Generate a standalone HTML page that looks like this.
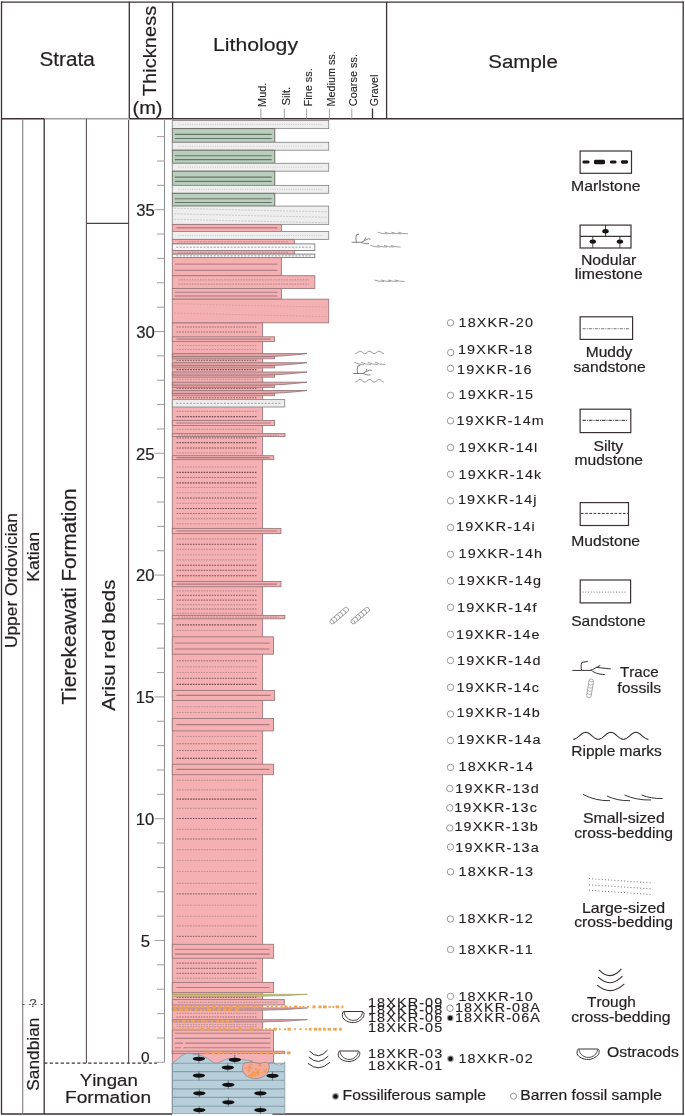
<!DOCTYPE html>
<html><head><meta charset="utf-8"><style>
html,body{margin:0;padding:0;background:#fff;}
svg{display:block;will-change:transform;}
text{font-family:"Liberation Sans",sans-serif;font-kerning:none;stroke:#231f20;stroke-width:0.2px;paint-order:stroke;}
</style></head><body>
<svg width="685" height="1116" viewBox="0 0 685 1116">
<rect x="0" y="0" width="685" height="1116" fill="#fff"/>
<line x1="1.5" y1="2.1" x2="683.2" y2="2.1" stroke="#3a3232" stroke-width="1.4" />
<line x1="1.5" y1="1.2" x2="1.5" y2="1114.3" stroke="#3a3232" stroke-width="1.3" />
<line x1="683.2" y1="1.2" x2="683.2" y2="1114.3" stroke="#3a3232" stroke-width="1.3" />
<line x1="1" y1="1114" x2="172.3" y2="1114" stroke="#3a3232" stroke-width="1.3" />
<line x1="272.4" y1="1114" x2="684" y2="1114" stroke="#3a3232" stroke-width="1.3" />
<line x1="129.3" y1="1.8" x2="129.3" y2="118.8" stroke="#3a3232" stroke-width="1.3" />
<line x1="172.6" y1="1.8" x2="172.6" y2="118.8" stroke="#3a3232" stroke-width="1.3" />
<line x1="386.6" y1="1.8" x2="386.6" y2="118.8" stroke="#3a3232" stroke-width="1.3" />
<line x1="1" y1="118.8" x2="44.5" y2="118.8" stroke="#3a3232" stroke-width="1.4" />
<line x1="44.5" y1="118.8" x2="129.3" y2="118.8" stroke="#9d9d9d" stroke-width="1.4" />
<line x1="129.3" y1="118.8" x2="683.5" y2="118.8" stroke="#3a3232" stroke-width="1.4" />
<line x1="22.7" y1="118.8" x2="22.7" y2="1114" stroke="#8a8585" stroke-width="1.2" />
<line x1="44.2" y1="118.8" x2="44.2" y2="1114" stroke="#3a3232" stroke-width="1.3" />
<line x1="86.4" y1="118.8" x2="86.4" y2="1063.2" stroke="#5a5252" stroke-width="1.1" />
<line x1="128.6" y1="120" x2="128.6" y2="1063.2" stroke="#5a5252" stroke-width="1.1" />
<line x1="86.4" y1="223.4" x2="128.6" y2="223.4" stroke="#4a4242" stroke-width="1.1" />
<line x1="22.7" y1="1004.5" x2="44.2" y2="1004.5" stroke="#555" stroke-width="1" stroke-dasharray="2 4"/>
<text x="29.49" y="1007.3" font-size="11.5" textLength="6.98" lengthAdjust="spacingAndGlyphs" fill="#444" >?</text>
<line x1="44.2" y1="1063.2" x2="157" y2="1063.2" stroke="#3a3232" stroke-width="1.2" stroke-dasharray="3.2 2.3"/>
<line x1="164.5" y1="120" x2="164.5" y2="1062.3" stroke="#8f8f8f" stroke-width="1.1" />
<line x1="154.5" y1="1062.3" x2="164.5" y2="1062.3" stroke="#a5a5a5" stroke-width="1.1" />
<line x1="157" y1="1037.94" x2="164.5" y2="1037.94" stroke="#a5a5a5" stroke-width="1.1" />
<line x1="157" y1="1013.58" x2="164.5" y2="1013.58" stroke="#a5a5a5" stroke-width="1.1" />
<line x1="157" y1="989.22" x2="164.5" y2="989.22" stroke="#a5a5a5" stroke-width="1.1" />
<line x1="157" y1="964.86" x2="164.5" y2="964.86" stroke="#a5a5a5" stroke-width="1.1" />
<line x1="154.5" y1="940.5" x2="164.5" y2="940.5" stroke="#a5a5a5" stroke-width="1.1" />
<line x1="157" y1="916.14" x2="164.5" y2="916.14" stroke="#a5a5a5" stroke-width="1.1" />
<line x1="157" y1="891.78" x2="164.5" y2="891.78" stroke="#a5a5a5" stroke-width="1.1" />
<line x1="157" y1="867.42" x2="164.5" y2="867.42" stroke="#a5a5a5" stroke-width="1.1" />
<line x1="157" y1="843.06" x2="164.5" y2="843.06" stroke="#a5a5a5" stroke-width="1.1" />
<line x1="154.5" y1="818.7" x2="164.5" y2="818.7" stroke="#a5a5a5" stroke-width="1.1" />
<line x1="157" y1="794.34" x2="164.5" y2="794.34" stroke="#a5a5a5" stroke-width="1.1" />
<line x1="157" y1="769.98" x2="164.5" y2="769.98" stroke="#a5a5a5" stroke-width="1.1" />
<line x1="157" y1="745.62" x2="164.5" y2="745.62" stroke="#a5a5a5" stroke-width="1.1" />
<line x1="157" y1="721.26" x2="164.5" y2="721.26" stroke="#a5a5a5" stroke-width="1.1" />
<line x1="154.5" y1="696.9" x2="164.5" y2="696.9" stroke="#a5a5a5" stroke-width="1.1" />
<line x1="157" y1="672.54" x2="164.5" y2="672.54" stroke="#a5a5a5" stroke-width="1.1" />
<line x1="157" y1="648.18" x2="164.5" y2="648.18" stroke="#a5a5a5" stroke-width="1.1" />
<line x1="157" y1="623.82" x2="164.5" y2="623.82" stroke="#a5a5a5" stroke-width="1.1" />
<line x1="157" y1="599.46" x2="164.5" y2="599.46" stroke="#a5a5a5" stroke-width="1.1" />
<line x1="154.5" y1="575.1" x2="164.5" y2="575.1" stroke="#a5a5a5" stroke-width="1.1" />
<line x1="157" y1="550.74" x2="164.5" y2="550.74" stroke="#a5a5a5" stroke-width="1.1" />
<line x1="157" y1="526.38" x2="164.5" y2="526.38" stroke="#a5a5a5" stroke-width="1.1" />
<line x1="157" y1="502.02" x2="164.5" y2="502.02" stroke="#a5a5a5" stroke-width="1.1" />
<line x1="157" y1="477.66" x2="164.5" y2="477.66" stroke="#a5a5a5" stroke-width="1.1" />
<line x1="154.5" y1="453.3" x2="164.5" y2="453.3" stroke="#a5a5a5" stroke-width="1.1" />
<line x1="157" y1="428.94" x2="164.5" y2="428.94" stroke="#a5a5a5" stroke-width="1.1" />
<line x1="157" y1="404.58" x2="164.5" y2="404.58" stroke="#a5a5a5" stroke-width="1.1" />
<line x1="157" y1="380.22" x2="164.5" y2="380.22" stroke="#a5a5a5" stroke-width="1.1" />
<line x1="157" y1="355.86" x2="164.5" y2="355.86" stroke="#a5a5a5" stroke-width="1.1" />
<line x1="154.5" y1="331.5" x2="164.5" y2="331.5" stroke="#a5a5a5" stroke-width="1.1" />
<line x1="157" y1="307.14" x2="164.5" y2="307.14" stroke="#a5a5a5" stroke-width="1.1" />
<line x1="157" y1="282.78" x2="164.5" y2="282.78" stroke="#a5a5a5" stroke-width="1.1" />
<line x1="157" y1="258.42" x2="164.5" y2="258.42" stroke="#a5a5a5" stroke-width="1.1" />
<line x1="157" y1="234.06" x2="164.5" y2="234.06" stroke="#a5a5a5" stroke-width="1.1" />
<line x1="154.5" y1="209.7" x2="164.5" y2="209.7" stroke="#a5a5a5" stroke-width="1.1" />
<line x1="157" y1="185.34" x2="164.5" y2="185.34" stroke="#a5a5a5" stroke-width="1.1" />
<line x1="157" y1="160.98" x2="164.5" y2="160.98" stroke="#a5a5a5" stroke-width="1.1" />
<line x1="157" y1="136.62" x2="164.5" y2="136.62" stroke="#a5a5a5" stroke-width="1.1" />
<text x="140.79" y="946.7" font-size="16" textLength="9.25" lengthAdjust="spacingAndGlyphs" fill="#231f20" >5</text>
<text x="135.84" y="824.9" font-size="16" textLength="18.51" lengthAdjust="spacingAndGlyphs" fill="#231f20" >10</text>
<text x="135.86" y="703.1" font-size="16" textLength="18.51" lengthAdjust="spacingAndGlyphs" fill="#231f20" >15</text>
<text x="136.05" y="581.3" font-size="16" textLength="18.51" lengthAdjust="spacingAndGlyphs" fill="#231f20" >20</text>
<text x="136.08" y="459.5" font-size="16" textLength="18.51" lengthAdjust="spacingAndGlyphs" fill="#231f20" >25</text>
<text x="136.15" y="337.7" font-size="16" textLength="18.51" lengthAdjust="spacingAndGlyphs" fill="#231f20" >30</text>
<text x="136.18" y="215.9" font-size="16" textLength="18.51" lengthAdjust="spacingAndGlyphs" fill="#231f20" >35</text>
<text x="141.1" y="1062.1" font-size="15.5" textLength="8.61" lengthAdjust="spacingAndGlyphs" fill="#231f20" >0</text>
<text x="39.56" y="66.3" font-size="19.5" textLength="55.24" lengthAdjust="spacingAndGlyphs" fill="#231f20" >Strata</text>
<text x="213.06" y="51.2" font-size="19.2" textLength="84.98" lengthAdjust="spacingAndGlyphs" fill="#231f20" >Lithology</text>
<text x="488.27" y="67.6" font-size="19.2" textLength="69.54" lengthAdjust="spacingAndGlyphs" fill="#231f20" >Sample</text>
<text transform="translate(156.2,96.15) rotate(-90)" x="0" y="0" font-size="19.2" textLength="90.38" lengthAdjust="spacingAndGlyphs" fill="#231f20" >Thickness</text>
<text x="132.56" y="113.9" font-size="18" textLength="29.98" lengthAdjust="spacingAndGlyphs" fill="#231f20" >(m)</text>
<line x1="260.9" y1="108.5" x2="260.9" y2="118.5" stroke="#a0a0a0" stroke-width="1" />
<text transform="translate(266.2,106.9) rotate(-90)" x="0" y="0" font-size="11.8" textLength="24.29" lengthAdjust="spacingAndGlyphs" fill="#231f20" style="stroke-width:0.12px">Mud.</text>
<line x1="284.3" y1="108.5" x2="284.3" y2="118.5" stroke="#a0a0a0" stroke-width="1" />
<text transform="translate(289.6,105.61) rotate(-90)" x="0" y="0" font-size="11.8" textLength="18.85" lengthAdjust="spacingAndGlyphs" fill="#231f20" style="stroke-width:0.12px">Silt.</text>
<line x1="306.6" y1="108.5" x2="306.6" y2="118.5" stroke="#a0a0a0" stroke-width="1" />
<text transform="translate(311.9,106.5) rotate(-90)" x="0" y="0" font-size="11.8" textLength="38.3" lengthAdjust="spacingAndGlyphs" fill="#231f20" style="stroke-width:0.12px">Fine ss.</text>
<line x1="329.4" y1="108.5" x2="329.4" y2="118.5" stroke="#a0a0a0" stroke-width="1" />
<text transform="translate(334.7,106.49) rotate(-90)" x="0" y="0" font-size="11.8" textLength="55.17" lengthAdjust="spacingAndGlyphs" fill="#231f20" style="stroke-width:0.12px">Medium ss.</text>
<line x1="351.8" y1="108.5" x2="351.8" y2="118.5" stroke="#a0a0a0" stroke-width="1" />
<text transform="translate(357.1,106.15) rotate(-90)" x="0" y="0" font-size="11.8" textLength="52.15" lengthAdjust="spacingAndGlyphs" fill="#231f20" style="stroke-width:0.12px">Coarse ss.</text>
<line x1="372.5" y1="108.5" x2="372.5" y2="118.5" stroke="#3a3232" stroke-width="1.3" />
<text transform="translate(377.8,106.14) rotate(-90)" x="0" y="0" font-size="11.8" textLength="31.56" lengthAdjust="spacingAndGlyphs" fill="#231f20" style="stroke-width:0.12px">Gravel</text>
<text transform="translate(17.2,648.04) rotate(-90)" x="0" y="0" font-size="16.5" textLength="134.86" lengthAdjust="spacingAndGlyphs" fill="#231f20" >Upper Ordovician</text>
<text transform="translate(39.4,581.74) rotate(-90)" x="0" y="0" font-size="16.6" textLength="49.89" lengthAdjust="spacingAndGlyphs" fill="#231f20" >Katian</text>
<text transform="translate(75.5,704.56) rotate(-90)" x="0" y="0" font-size="19.8" textLength="216.01" lengthAdjust="spacingAndGlyphs" fill="#231f20" >Tierekeawati Formation</text>
<text transform="translate(114.8,710.84) rotate(-90)" x="0" y="0" font-size="18.7" textLength="131.17" lengthAdjust="spacingAndGlyphs" fill="#231f20" >Arisu red beds</text>
<text transform="translate(39,1090.69) rotate(-90)" x="0" y="0" font-size="17" textLength="73.11" lengthAdjust="spacingAndGlyphs" fill="#231f20" >Sandbian</text>
<text x="79.69" y="1085.7" font-size="17.2" textLength="58.12" lengthAdjust="spacingAndGlyphs" fill="#231f20" >Yingan</text>
<text x="65.03" y="1103.2" font-size="17.2" textLength="86.01" lengthAdjust="spacingAndGlyphs" fill="#231f20" >Formation</text>
<rect x="172.3" y="322.8" width="90.3" height="731.2" fill="#f4b0b2" stroke="#9c7a7c" stroke-width="0.9" />
<line x1="176.6" y1="327" x2="256.4" y2="327" stroke="#9c7073" stroke-width="1.15" stroke-dasharray="1.7 1.0"/>
<line x1="176.6" y1="332" x2="256.4" y2="332" stroke="#9c7073" stroke-width="1.15" stroke-dasharray="1.7 1.0"/>
<line x1="176.6" y1="345.5" x2="256.4" y2="345.5" stroke="#c49194" stroke-width="1.15" stroke-dasharray="1.7 1.0"/>
<line x1="176.6" y1="349.5" x2="256.4" y2="349.5" stroke="#c49194" stroke-width="1.15" stroke-dasharray="1.7 1.0"/>
<line x1="176.6" y1="360.2" x2="256.4" y2="360.2" stroke="#7a5255" stroke-width="1.15" stroke-dasharray="1.7 1.0"/>
<line x1="176.6" y1="369.6" x2="256.4" y2="369.6" stroke="#7a5255" stroke-width="1.15" stroke-dasharray="1.7 1.0"/>
<line x1="176.6" y1="379.4" x2="256.4" y2="379.4" stroke="#c49194" stroke-width="1.15" stroke-dasharray="1.7 1.0"/>
<line x1="176.6" y1="388.2" x2="256.4" y2="388.2" stroke="#7a5255" stroke-width="1.15" stroke-dasharray="1.7 1.0"/>
<line x1="176.6" y1="397.6" x2="256.4" y2="397.6" stroke="#9c7073" stroke-width="1.15" stroke-dasharray="1.7 1.0"/>
<line x1="176.6" y1="411.3" x2="256.4" y2="411.3" stroke="#c49194" stroke-width="1.15" stroke-dasharray="1.7 1.0"/>
<line x1="176.6" y1="416.6" x2="256.4" y2="416.6" stroke="#7a5255" stroke-width="1.15" stroke-dasharray="1.7 1.0"/>
<line x1="176.6" y1="429.4" x2="256.4" y2="429.4" stroke="#c49194" stroke-width="1.15" stroke-dasharray="1.7 1.0"/>
<line x1="176.6" y1="437.9" x2="256.4" y2="437.9" stroke="#9c7073" stroke-width="1.15" stroke-dasharray="1.7 1.0"/>
<line x1="176.6" y1="442.6" x2="256.4" y2="442.6" stroke="#7a5255" stroke-width="1.15" stroke-dasharray="1.7 1.0"/>
<line x1="176.6" y1="448" x2="256.4" y2="448" stroke="#7a5255" stroke-width="1.15" stroke-dasharray="1.7 1.0"/>
<line x1="176.6" y1="452.8" x2="256.4" y2="452.8" stroke="#c49194" stroke-width="1.15" stroke-dasharray="1.7 1.0"/>
<line x1="176.6" y1="467" x2="256.4" y2="467" stroke="#c49194" stroke-width="1.15" stroke-dasharray="1.7 1.0"/>
<line x1="176.6" y1="472.3" x2="256.4" y2="472.3" stroke="#7a5255" stroke-width="1.15" stroke-dasharray="1.7 1.0"/>
<line x1="176.6" y1="477.5" x2="256.4" y2="477.5" stroke="#9c7073" stroke-width="1.15" stroke-dasharray="1.7 1.0"/>
<line x1="176.6" y1="482.8" x2="256.4" y2="482.8" stroke="#7a5255" stroke-width="1.15" stroke-dasharray="1.7 1.0"/>
<line x1="176.6" y1="487.5" x2="256.4" y2="487.5" stroke="#c49194" stroke-width="1.15" stroke-dasharray="1.7 1.0"/>
<line x1="176.6" y1="492.7" x2="256.4" y2="492.7" stroke="#c49194" stroke-width="1.15" stroke-dasharray="1.7 1.0"/>
<line x1="176.6" y1="498" x2="256.4" y2="498" stroke="#7a5255" stroke-width="1.15" stroke-dasharray="1.7 1.0"/>
<line x1="176.6" y1="503.3" x2="256.4" y2="503.3" stroke="#c49194" stroke-width="1.15" stroke-dasharray="1.7 1.0"/>
<line x1="176.6" y1="508.5" x2="256.4" y2="508.5" stroke="#7a5255" stroke-width="1.15" stroke-dasharray="1.7 1.0"/>
<line x1="176.6" y1="513.5" x2="256.4" y2="513.5" stroke="#9c7073" stroke-width="1.15" stroke-dasharray="1.7 1.0"/>
<line x1="176.6" y1="518.6" x2="256.4" y2="518.6" stroke="#c49194" stroke-width="1.15" stroke-dasharray="1.7 1.0"/>
<line x1="176.6" y1="523.7" x2="256.4" y2="523.7" stroke="#c49194" stroke-width="1.15" stroke-dasharray="1.7 1.0"/>
<line x1="176.6" y1="538.9" x2="256.4" y2="538.9" stroke="#c49194" stroke-width="1.15" stroke-dasharray="1.7 1.0"/>
<line x1="176.6" y1="544.2" x2="256.4" y2="544.2" stroke="#7a5255" stroke-width="1.15" stroke-dasharray="1.7 1.0"/>
<line x1="176.6" y1="549.4" x2="256.4" y2="549.4" stroke="#c49194" stroke-width="1.15" stroke-dasharray="1.7 1.0"/>
<line x1="176.6" y1="554.7" x2="256.4" y2="554.7" stroke="#c49194" stroke-width="1.15" stroke-dasharray="1.7 1.0"/>
<line x1="176.6" y1="559.9" x2="256.4" y2="559.9" stroke="#c49194" stroke-width="1.15" stroke-dasharray="1.7 1.0"/>
<line x1="176.6" y1="565.2" x2="256.4" y2="565.2" stroke="#7a5255" stroke-width="1.15" stroke-dasharray="1.7 1.0"/>
<line x1="176.6" y1="570.4" x2="256.4" y2="570.4" stroke="#9c7073" stroke-width="1.15" stroke-dasharray="1.7 1.0"/>
<line x1="176.6" y1="575.7" x2="256.4" y2="575.7" stroke="#7a5255" stroke-width="1.15" stroke-dasharray="1.7 1.0"/>
<line x1="176.6" y1="590.9" x2="256.4" y2="590.9" stroke="#c49194" stroke-width="1.15" stroke-dasharray="1.7 1.0"/>
<line x1="176.6" y1="595.4" x2="256.4" y2="595.4" stroke="#9c7073" stroke-width="1.15" stroke-dasharray="1.7 1.0"/>
<line x1="176.6" y1="600.1" x2="256.4" y2="600.1" stroke="#9c7073" stroke-width="1.15" stroke-dasharray="1.7 1.0"/>
<line x1="176.6" y1="604.6" x2="256.4" y2="604.6" stroke="#c49194" stroke-width="1.15" stroke-dasharray="1.7 1.0"/>
<line x1="176.6" y1="609" x2="256.4" y2="609" stroke="#9c7073" stroke-width="1.15" stroke-dasharray="1.7 1.0"/>
<line x1="176.6" y1="613.3" x2="256.4" y2="613.3" stroke="#c49194" stroke-width="1.15" stroke-dasharray="1.7 1.0"/>
<line x1="176.6" y1="624.8" x2="256.4" y2="624.8" stroke="#7a5255" stroke-width="1.15" stroke-dasharray="1.7 1.0"/>
<line x1="176.6" y1="630.5" x2="256.4" y2="630.5" stroke="#c49194" stroke-width="1.15" stroke-dasharray="1.7 1.0"/>
<line x1="176.6" y1="660.7" x2="256.4" y2="660.7" stroke="#9c7073" stroke-width="1.15" stroke-dasharray="1.7 1.0"/>
<line x1="176.6" y1="666.8" x2="256.4" y2="666.8" stroke="#c49194" stroke-width="1.15" stroke-dasharray="1.7 1.0"/>
<line x1="176.6" y1="672.5" x2="256.4" y2="672.5" stroke="#c49194" stroke-width="1.15" stroke-dasharray="1.7 1.0"/>
<line x1="176.6" y1="678.3" x2="256.4" y2="678.3" stroke="#9c7073" stroke-width="1.15" stroke-dasharray="1.7 1.0"/>
<line x1="176.6" y1="684.4" x2="256.4" y2="684.4" stroke="#7a5255" stroke-width="1.15" stroke-dasharray="1.7 1.0"/>
<line x1="176.6" y1="706.7" x2="256.4" y2="706.7" stroke="#c49194" stroke-width="1.15" stroke-dasharray="1.7 1.0"/>
<line x1="176.6" y1="712.5" x2="256.4" y2="712.5" stroke="#c49194" stroke-width="1.15" stroke-dasharray="1.7 1.0"/>
<line x1="176.6" y1="736.4" x2="256.4" y2="736.4" stroke="#c49194" stroke-width="1.15" stroke-dasharray="1.7 1.0"/>
<line x1="176.6" y1="743.7" x2="256.4" y2="743.7" stroke="#9c7073" stroke-width="1.15" stroke-dasharray="1.7 1.0"/>
<line x1="176.6" y1="750.5" x2="256.4" y2="750.5" stroke="#9c7073" stroke-width="1.15" stroke-dasharray="1.7 1.0"/>
<line x1="176.6" y1="758.4" x2="256.4" y2="758.4" stroke="#7a5255" stroke-width="1.15" stroke-dasharray="1.7 1.0"/>
<line x1="176.6" y1="780.4" x2="256.4" y2="780.4" stroke="#c49194" stroke-width="1.15" stroke-dasharray="1.7 1.0"/>
<line x1="176.6" y1="789.9" x2="256.4" y2="789.9" stroke="#c49194" stroke-width="1.15" stroke-dasharray="1.7 1.0"/>
<line x1="176.6" y1="799.1" x2="256.4" y2="799.1" stroke="#7a5255" stroke-width="1.15" stroke-dasharray="1.7 1.0"/>
<line x1="176.6" y1="808.3" x2="256.4" y2="808.3" stroke="#c49194" stroke-width="1.15" stroke-dasharray="1.7 1.0"/>
<line x1="176.6" y1="818.5" x2="256.4" y2="818.5" stroke="#7a5255" stroke-width="1.15" stroke-dasharray="1.7 1.0"/>
<line x1="176.6" y1="829.3" x2="256.4" y2="829.3" stroke="#c49194" stroke-width="1.15" stroke-dasharray="1.7 1.0"/>
<line x1="176.6" y1="839" x2="256.4" y2="839" stroke="#9c7073" stroke-width="1.15" stroke-dasharray="1.7 1.0"/>
<line x1="176.6" y1="849.6" x2="256.4" y2="849.6" stroke="#c49194" stroke-width="1.15" stroke-dasharray="1.7 1.0"/>
<line x1="176.6" y1="860.5" x2="256.4" y2="860.5" stroke="#c49194" stroke-width="1.15" stroke-dasharray="1.7 1.0"/>
<line x1="176.6" y1="871.5" x2="256.4" y2="871.5" stroke="#c49194" stroke-width="1.15" stroke-dasharray="1.7 1.0"/>
<line x1="176.6" y1="883.4" x2="256.4" y2="883.4" stroke="#c49194" stroke-width="1.15" stroke-dasharray="1.7 1.0"/>
<line x1="176.6" y1="893.9" x2="256.4" y2="893.9" stroke="#9c7073" stroke-width="1.15" stroke-dasharray="1.7 1.0"/>
<line x1="176.6" y1="905.2" x2="256.4" y2="905.2" stroke="#c49194" stroke-width="1.15" stroke-dasharray="1.7 1.0"/>
<line x1="176.6" y1="916.2" x2="256.4" y2="916.2" stroke="#c49194" stroke-width="1.15" stroke-dasharray="1.7 1.0"/>
<line x1="176.6" y1="925.9" x2="256.4" y2="925.9" stroke="#c49194" stroke-width="1.15" stroke-dasharray="1.7 1.0"/>
<line x1="176.6" y1="936.4" x2="256.4" y2="936.4" stroke="#9c7073" stroke-width="1.15" stroke-dasharray="1.7 1.0"/>
<line x1="176.6" y1="963.1" x2="256.4" y2="963.1" stroke="#9c7073" stroke-width="1.15" stroke-dasharray="1.7 1.0"/>
<line x1="176.6" y1="968.4" x2="256.4" y2="968.4" stroke="#9c7073" stroke-width="1.15" stroke-dasharray="1.7 1.0"/>
<line x1="176.6" y1="973.3" x2="256.4" y2="973.3" stroke="#9c7073" stroke-width="1.15" stroke-dasharray="1.7 1.0"/>
<line x1="176.6" y1="978.4" x2="256.4" y2="978.4" stroke="#c49194" stroke-width="1.15" stroke-dasharray="1.7 1.0"/>
<line x1="176.6" y1="997.3" x2="256.4" y2="997.3" stroke="#9c7073" stroke-width="1.15" stroke-dasharray="1.7 1.0"/>
<line x1="176.6" y1="1003.3" x2="256.4" y2="1003.3" stroke="#7a5255" stroke-width="1.15" stroke-dasharray="1.7 1.0"/>
<line x1="176.6" y1="1013.4" x2="256.4" y2="1013.4" stroke="#c49194" stroke-width="1.15" stroke-dasharray="1.7 1.0"/>
<line x1="176.6" y1="1017" x2="256.4" y2="1017" stroke="#9c7073" stroke-width="1.15" stroke-dasharray="1.7 1.0"/>
<line x1="176.6" y1="1024.5" x2="256.4" y2="1024.5" stroke="#c49194" stroke-width="1.15" stroke-dasharray="1.7 1.0"/>
<line x1="176.6" y1="1026.6" x2="256.4" y2="1026.6" stroke="#c49194" stroke-width="1.15" stroke-dasharray="1.7 1.0"/>
<rect x="172.3" y="120.5" width="156.4" height="8.1" fill="#eeeeee" stroke="#8c8c8c" stroke-width="0.9" />
<line x1="178.3" y1="124.55" x2="322.7" y2="124.55" stroke="#c4c4c4" stroke-width="1.1" stroke-dasharray="0.8 1.5"/>
<rect x="172.3" y="128.6" width="102.5" height="13.7" fill="#b9cfbb" stroke="#6c6363" stroke-width="0.9" />
<line x1="174.8" y1="134.35" x2="271.8" y2="134.35" stroke="#66746a" stroke-width="1.1" />
<line x1="174.8" y1="138.46" x2="271.8" y2="138.46" stroke="#66746a" stroke-width="1.1" />
<rect x="172.3" y="142.3" width="156.4" height="7.9" fill="#eeeeee" stroke="#8c8c8c" stroke-width="0.9" />
<line x1="178.3" y1="146.25" x2="322.7" y2="146.25" stroke="#c4c4c4" stroke-width="1.1" stroke-dasharray="0.8 1.5"/>
<rect x="172.3" y="150.2" width="102.5" height="13.1" fill="#b9cfbb" stroke="#6c6363" stroke-width="0.9" />
<line x1="174.8" y1="155.7" x2="271.8" y2="155.7" stroke="#66746a" stroke-width="1.1" />
<line x1="174.8" y1="159.63" x2="271.8" y2="159.63" stroke="#66746a" stroke-width="1.1" />
<rect x="172.3" y="163.3" width="156.4" height="7.9" fill="#eeeeee" stroke="#8c8c8c" stroke-width="0.9" />
<line x1="178.3" y1="167.25" x2="322.7" y2="167.25" stroke="#c4c4c4" stroke-width="1.1" stroke-dasharray="0.8 1.5"/>
<rect x="172.3" y="171.2" width="102.5" height="14.2" fill="#b9cfbb" stroke="#6c6363" stroke-width="0.9" />
<line x1="174.8" y1="177.16" x2="271.8" y2="177.16" stroke="#66746a" stroke-width="1.1" />
<line x1="174.8" y1="181.42" x2="271.8" y2="181.42" stroke="#66746a" stroke-width="1.1" />
<rect x="172.3" y="185.4" width="156.4" height="7.9" fill="#eeeeee" stroke="#8c8c8c" stroke-width="0.9" />
<line x1="178.3" y1="189.35" x2="322.7" y2="189.35" stroke="#c4c4c4" stroke-width="1.1" stroke-dasharray="0.8 1.5"/>
<rect x="172.3" y="193.3" width="102.5" height="12.8" fill="#b9cfbb" stroke="#6c6363" stroke-width="0.9" />
<line x1="174.8" y1="198.68" x2="271.8" y2="198.68" stroke="#66746a" stroke-width="1.1" />
<line x1="174.8" y1="202.52" x2="271.8" y2="202.52" stroke="#66746a" stroke-width="1.1" />
<rect x="172.3" y="206.1" width="156.4" height="18.3" fill="#eeeeee" stroke="#8c8c8c" stroke-width="0.9" />
<path d="M174.3,208.26 Q250.5,210.26 326.7,211.76" fill="none" stroke="#bdbdbd" stroke-width="0.8" stroke-dasharray="2 1.2"/>
<path d="M174.3,213.75 Q250.5,215.75 326.7,217.25" fill="none" stroke="#bdbdbd" stroke-width="0.8" stroke-dasharray="2 1.2"/>
<path d="M174.3,219.24 Q250.5,221.24 326.7,222.74" fill="none" stroke="#bdbdbd" stroke-width="0.8" stroke-dasharray="2 1.2"/>
<rect x="172.3" y="224.4" width="109.1" height="7.1" fill="#f4b0b2" stroke="#9c7a7c" stroke-width="0.9" />
<line x1="176.3" y1="227.95" x2="277.4" y2="227.95" stroke="#ad7b7f" stroke-width="1.2" />
<rect x="172.3" y="231.5" width="156.4" height="7.9" fill="#eeeeee" stroke="#8c8c8c" stroke-width="0.9" />
<line x1="178.3" y1="235.45" x2="322.7" y2="235.45" stroke="#c4c4c4" stroke-width="1.1" stroke-dasharray="0.8 1.5"/>
<rect x="172.3" y="239.4" width="122" height="4.5" fill="#f4b0b2" stroke="#9c7a7c" stroke-width="0.9" />
<line x1="178.3" y1="241.65" x2="288.3" y2="241.65" stroke="#c49194" stroke-width="1.15" stroke-dasharray="1.7 1.0"/>
<rect x="172.3" y="243.9" width="142.5" height="6.6" fill="#f7f7f7" stroke="#7a7a7a" stroke-width="0.9" />
<line x1="176.3" y1="247.2" x2="310.8" y2="247.2" stroke="#a0a0a0" stroke-width="1" stroke-dasharray="2 1.4"/>
<rect x="172.3" y="250.5" width="122" height="3.6" fill="#f4b0b2" stroke="#9c7a7c" stroke-width="0.9" />
<line x1="178.3" y1="252.3" x2="288.3" y2="252.3" stroke="#c49194" stroke-width="1.15" stroke-dasharray="1.7 1.0"/>
<rect x="172.3" y="254.1" width="142.5" height="3.5" fill="#f7f7f7" stroke="#7a7a7a" stroke-width="0.9" />
<line x1="176.3" y1="255.85" x2="310.8" y2="255.85" stroke="#a0a0a0" stroke-width="1" stroke-dasharray="2 1.4"/>
<rect x="172.3" y="257.6" width="109.1" height="18.1" fill="#f4b0b2" stroke="#9c7a7c" stroke-width="0.9" />
<line x1="174.8" y1="264.12" x2="277.4" y2="264.12" stroke="#b88589" stroke-width="1.2" />
<line x1="174.8" y1="270.27" x2="277.4" y2="270.27" stroke="#a87579" stroke-width="1.2" />
<rect x="172.3" y="275.7" width="142.5" height="12.8" fill="#f4b0b2" stroke="#9c7a7c" stroke-width="0.9" />
<line x1="178.3" y1="279.92" x2="308.8" y2="279.92" stroke="#c49194" stroke-width="1.15" stroke-dasharray="1.7 1.0"/>
<line x1="178.3" y1="284.15" x2="308.8" y2="284.15" stroke="#c49194" stroke-width="1.15" stroke-dasharray="1.7 1.0"/>
<rect x="172.3" y="288.5" width="109.1" height="10.7" fill="#f4b0b2" stroke="#9c7a7c" stroke-width="0.9" />
<line x1="174.8" y1="292.35" x2="277.4" y2="292.35" stroke="#b88589" stroke-width="1.2" />
<line x1="174.8" y1="295.99" x2="277.4" y2="295.99" stroke="#a87579" stroke-width="1.2" />
<rect x="172.3" y="299.2" width="156.4" height="23.6" fill="#f4b0b2" stroke="#9c7a7c" stroke-width="0.9" />
<path d="M174.3,303.6 Q250.5,305.6 326.7,307.1" fill="none" stroke="#d09a9d" stroke-width="0.8" stroke-dasharray="2 1.2"/>
<path d="M174.3,313.04 Q250.5,315.04 326.7,316.54" fill="none" stroke="#d09a9d" stroke-width="0.8" stroke-dasharray="2 1.2"/>
<rect x="172.3" y="336.8" width="102.3" height="4.7" fill="#f4b0b2" stroke="#9c7a7c" stroke-width="0.9" />
<line x1="176.3" y1="339.15" x2="270.6" y2="339.15" stroke="#ad7b7f" stroke-width="1.2" />
<rect x="172.3" y="399.6" width="112.4" height="7.4" fill="#eeeeee" stroke="#8c8c8c" stroke-width="0.9" />
<line x1="176.3" y1="403.3" x2="280.7" y2="403.3" stroke="#a0a0a0" stroke-width="1" stroke-dasharray="2 1.4"/>
<rect x="172.3" y="420.5" width="102.3" height="5" fill="#f4b0b2" stroke="#9c7a7c" stroke-width="0.9" />
<line x1="176.3" y1="423" x2="270.6" y2="423" stroke="#ad7b7f" stroke-width="1.2" />
<rect x="172.3" y="433.6" width="112.7" height="2.9" fill="#f4b0b2" stroke="#9c7a7c" stroke-width="0.9" />
<line x1="178.3" y1="435.05" x2="279" y2="435.05" stroke="#c49194" stroke-width="1.15" stroke-dasharray="1.7 1.0"/>
<rect x="172.3" y="455.7" width="101.5" height="3.9" fill="#f4b0b2" stroke="#9c7a7c" stroke-width="0.9" />
<line x1="176.3" y1="457.65" x2="269.8" y2="457.65" stroke="#ad7b7f" stroke-width="1.2" />
<rect x="172.3" y="528.4" width="108.6" height="5.2" fill="#f4b0b2" stroke="#9c7a7c" stroke-width="0.9" />
<line x1="176.3" y1="531" x2="276.9" y2="531" stroke="#ad7b7f" stroke-width="1.2" />
<rect x="172.3" y="581.5" width="108.6" height="5.2" fill="#f4b0b2" stroke="#9c7a7c" stroke-width="0.9" />
<line x1="176.3" y1="584.1" x2="276.9" y2="584.1" stroke="#ad7b7f" stroke-width="1.2" />
<rect x="172.3" y="615.4" width="112.5" height="3.4" fill="#f4b0b2" stroke="#9c7a7c" stroke-width="0.9" />
<line x1="178.3" y1="617.1" x2="278.8" y2="617.1" stroke="#c49194" stroke-width="1.15" stroke-dasharray="1.7 1.0"/>
<rect x="172.3" y="636.8" width="101.2" height="17.4" fill="#f4b0b2" stroke="#9c7a7c" stroke-width="0.9" />
<line x1="174.8" y1="643.06" x2="269.5" y2="643.06" stroke="#b88589" stroke-width="1.2" />
<line x1="174.8" y1="648.98" x2="269.5" y2="648.98" stroke="#a87579" stroke-width="1.2" />
<rect x="172.3" y="690.4" width="102.3" height="10" fill="#f4b0b2" stroke="#9c7a7c" stroke-width="0.9" />
<line x1="176.3" y1="695.4" x2="270.6" y2="695.4" stroke="#ad7b7f" stroke-width="1.2" />
<rect x="172.3" y="718.5" width="101.2" height="12.4" fill="#f4b0b2" stroke="#9c7a7c" stroke-width="0.9" />
<line x1="176.3" y1="724.7" x2="269.5" y2="724.7" stroke="#ad7b7f" stroke-width="1.2" />
<rect x="172.3" y="764.2" width="101.2" height="10.5" fill="#f4b0b2" stroke="#9c7a7c" stroke-width="0.9" />
<line x1="176.3" y1="769.45" x2="269.5" y2="769.45" stroke="#ad7b7f" stroke-width="1.2" />
<rect x="172.3" y="944.3" width="101.3" height="13.9" fill="#f4b0b2" stroke="#9c7a7c" stroke-width="0.9" />
<line x1="174.8" y1="949.3" x2="269.6" y2="949.3" stroke="#b88589" stroke-width="1.2" />
<line x1="174.8" y1="954.03" x2="269.6" y2="954.03" stroke="#a87579" stroke-width="1.2" />
<rect x="172.3" y="982.4" width="101.3" height="10.2" fill="#f4b0b2" stroke="#9c7a7c" stroke-width="0.9" />
<line x1="176.3" y1="987.5" x2="269.6" y2="987.5" stroke="#ad7b7f" stroke-width="1.2" />
<rect x="172.3" y="999.6" width="112" height="5.4" fill="#f4b0b2" stroke="#9c7a7c" stroke-width="0.9" />
<line x1="178.3" y1="1002.3" x2="278.3" y2="1002.3" stroke="#c49194" stroke-width="1.15" stroke-dasharray="1.7 1.0"/>
<rect x="172.3" y="1030" width="101.2" height="36" fill="#f4b0b2" stroke="#9c7a7c" stroke-width="0.9" />
<rect x="172.3" y="1051.2" width="112.5" height="2.2" fill="#f4b0b2" stroke="#9c7a7c" stroke-width="0.9" />
<line x1="174.8" y1="1033.2" x2="270.5" y2="1033.2" stroke="#b07f83" stroke-width="1.1" />
<line x1="174.8" y1="1038.4" x2="270.5" y2="1038.4" stroke="#b07f83" stroke-width="1.1" />
<line x1="174.8" y1="1043.1" x2="270.5" y2="1043.1" stroke="#b07f83" stroke-width="1.1" />
<line x1="174.8" y1="1047.7" x2="270.5" y2="1047.7" stroke="#b07f83" stroke-width="1.1" />
<rect x="183" y="1042" width="2.4" height="2.2" fill="#f4b0b2"/>
<rect x="181" y="1046.6" width="2.4" height="2.2" fill="#f4b0b2"/>
<rect x="172.3" y="356.2" width="102.3" height="2.6" fill="#e6a3a6" stroke="#9c7a7c" stroke-width="0.8" />
<path d="M172.3,353.6 L307,353.6 Q282,356.6 262,356.6 L172.3,356.6 Z" fill="#e4a5a8" stroke="#8f6f72" stroke-width="0.8"/>
<rect x="172.3" y="365.3" width="102.3" height="2.6" fill="#e6a3a6" stroke="#9c7a7c" stroke-width="0.8" />
<path d="M172.3,362.7 L307,362.7 Q282,365.7 262,365.7 L172.3,365.7 Z" fill="#e4a5a8" stroke="#8f6f72" stroke-width="0.8"/>
<rect x="172.3" y="374.6" width="102.3" height="2.6" fill="#e6a3a6" stroke="#9c7a7c" stroke-width="0.8" />
<path d="M172.3,372 L307,372 Q282,375 262,375 L172.3,375 Z" fill="#e4a5a8" stroke="#8f6f72" stroke-width="0.8"/>
<rect x="172.3" y="384.8" width="102.3" height="2.6" fill="#e6a3a6" stroke="#9c7a7c" stroke-width="0.8" />
<path d="M172.3,382.2 L307,382.2 Q282,385.2 262,385.2 L172.3,385.2 Z" fill="#e4a5a8" stroke="#8f6f72" stroke-width="0.8"/>
<rect x="172.3" y="393.1" width="102.3" height="2.6" fill="#e6a3a6" stroke="#9c7a7c" stroke-width="0.8" />
<path d="M172.3,390.5 L307,390.5 Q282,393.5 262,393.5 L172.3,393.5 Z" fill="#e4a5a8" stroke="#8f6f72" stroke-width="0.8"/>
<path d="M172.3,994.3 L307.5,994.3 Q284,996.2 262,996.2 L172.3,996.2 Z" fill="#cdc57a" stroke="#9b9550" stroke-width="0.6"/>
<path d="M172.3,1007.9 L307.5,1007.9 Q284,1010.2 262,1010.2 L172.3,1010.2 Z" fill="#d9a0a4" stroke="#8f7275" stroke-width="0.7"/>
<path d="M172.3,1019.6 L307.5,1019.6 Q284,1021.9 262,1021.9 L172.3,1021.9 Z" fill="#d9a0a4" stroke="#8f7275" stroke-width="0.7"/>
<rect x="173.3" y="1005.9" width="2.2" height="2" fill="#f2a24e"/>
<rect x="177.41" y="1005.9" width="2" height="2" fill="#f2a24e"/>
<rect x="181.65" y="1005.9" width="1.8" height="2" fill="#f2a24e"/>
<rect x="184.85" y="1005.9" width="2.2" height="2" fill="#f2a24e"/>
<rect x="189.89" y="1005.9" width="1.8" height="2" fill="#f2a24e"/>
<rect x="193.5" y="1005.9" width="2" height="2" fill="#f2a24e"/>
<rect x="198.4" y="1005.9" width="2" height="2" fill="#f2a24e"/>
<rect x="201.97" y="1005.9" width="1.8" height="2" fill="#f2a24e"/>
<rect x="206.61" y="1005.5" width="2.6" height="2.8" fill="#f2a24e"/>
<rect x="212.33" y="1005.5" width="3.6" height="2.8" fill="#f2a24e"/>
<rect x="219.18" y="1005.9" width="2" height="2" fill="#f2a24e"/>
<rect x="224.27" y="1005.9" width="2" height="2" fill="#f2a24e"/>
<rect x="228.95" y="1005.5" width="3.6" height="2.8" fill="#f2a24e"/>
<rect x="236.14" y="1005.5" width="3.6" height="2.8" fill="#f2a24e"/>
<rect x="241.48" y="1005.5" width="3.6" height="2.8" fill="#f2a24e"/>
<rect x="247.19" y="1005.9" width="2" height="2" fill="#f2a24e"/>
<rect x="252.51" y="1005.5" width="3.2" height="2.8" fill="#f2a24e"/>
<rect x="257.32" y="1005.9" width="1.8" height="2" fill="#f2a24e"/>
<rect x="261.53" y="1005.9" width="1.8" height="2" fill="#f2a24e"/>
<rect x="266.69" y="1005.9" width="2.2" height="2" fill="#f2a24e"/>
<rect x="270.86" y="1005.9" width="2" height="2" fill="#f2a24e"/>
<rect x="275.41" y="1005.9" width="2" height="2" fill="#f2a24e"/>
<rect x="280.67" y="1005.9" width="2" height="2" fill="#f2a24e"/>
<rect x="284.32" y="1005.5" width="3.2" height="2.8" fill="#f2a24e"/>
<rect x="289.42" y="1005.9" width="1.8" height="2" fill="#f2a24e"/>
<rect x="293.82" y="1005.5" width="3.6" height="2.8" fill="#f2a24e"/>
<rect x="299.22" y="1005.9" width="1.8" height="2" fill="#f2a24e"/>
<rect x="302.46" y="1005.9" width="2" height="2" fill="#f2a24e"/>
<rect x="306.84" y="1005.9" width="2" height="2" fill="#f2a24e"/>
<rect x="312.43" y="1005.5" width="3.2" height="2.8" fill="#f2a24e"/>
<rect x="318.43" y="1005.5" width="3.2" height="2.8" fill="#f2a24e"/>
<rect x="323.03" y="1005.5" width="3.6" height="2.8" fill="#f2a24e"/>
<rect x="328.57" y="1005.9" width="2.2" height="2" fill="#f2a24e"/>
<rect x="332.32" y="1005.9" width="1.8" height="2" fill="#f2a24e"/>
<rect x="335.53" y="1005.5" width="3.6" height="2.8" fill="#f2a24e"/>
<rect x="341.5" y="1005.5" width="1.9" height="2.8" fill="#f2a24e"/>
<rect x="173.3" y="1028.2" width="2.2" height="2" fill="#f2a24e"/>
<rect x="179" y="1028.2" width="2" height="2" fill="#f2a24e"/>
<rect x="182.69" y="1028.2" width="2" height="2" fill="#f2a24e"/>
<rect x="187.15" y="1027.8" width="2.6" height="2.8" fill="#f2a24e"/>
<rect x="191.5" y="1028.2" width="2.2" height="2" fill="#f2a24e"/>
<rect x="197.17" y="1028.2" width="1.8" height="2" fill="#f2a24e"/>
<rect x="200.61" y="1027.8" width="3.2" height="2.8" fill="#f2a24e"/>
<rect x="206.77" y="1027.8" width="3.2" height="2.8" fill="#f2a24e"/>
<rect x="213.06" y="1028.2" width="2" height="2" fill="#f2a24e"/>
<rect x="218.52" y="1027.8" width="2.6" height="2.8" fill="#f2a24e"/>
<rect x="223" y="1027.8" width="2.6" height="2.8" fill="#f2a24e"/>
<rect x="228.52" y="1028.2" width="2.2" height="2" fill="#f2a24e"/>
<rect x="233.1" y="1028.2" width="2" height="2" fill="#f2a24e"/>
<rect x="238.45" y="1027.8" width="3.6" height="2.8" fill="#f2a24e"/>
<rect x="244.7" y="1028.2" width="1.8" height="2" fill="#f2a24e"/>
<rect x="249.94" y="1027.8" width="3.2" height="2.8" fill="#f2a24e"/>
<rect x="256.48" y="1028.2" width="2" height="2" fill="#f2a24e"/>
<rect x="261.06" y="1028.2" width="1.8" height="2" fill="#f2a24e"/>
<rect x="265.07" y="1028.2" width="2" height="2" fill="#f2a24e"/>
<rect x="268.72" y="1028.2" width="2.2" height="2" fill="#f2a24e"/>
<rect x="273.23" y="1027.8" width="3.6" height="2.8" fill="#f2a24e"/>
<rect x="278.94" y="1028.2" width="1.8" height="2" fill="#f2a24e"/>
<rect x="284.23" y="1028.2" width="1.8" height="2" fill="#f2a24e"/>
<rect x="287.55" y="1027.8" width="3.2" height="2.8" fill="#f2a24e"/>
<rect x="294.11" y="1028.2" width="1.8" height="2" fill="#f2a24e"/>
<rect x="299.41" y="1028.2" width="2.2" height="2" fill="#f2a24e"/>
<rect x="305.02" y="1028.2" width="1.8" height="2" fill="#f2a24e"/>
<rect x="308.85" y="1027.8" width="2.6" height="2.8" fill="#f2a24e"/>
<rect x="313.96" y="1027.8" width="3.2" height="2.8" fill="#f2a24e"/>
<rect x="318.58" y="1027.8" width="2.6" height="2.8" fill="#f2a24e"/>
<rect x="323.03" y="1027.8" width="2.6" height="2.8" fill="#f2a24e"/>
<rect x="327.59" y="1027.8" width="3.2" height="2.8" fill="#f2a24e"/>
<rect x="333.15" y="1027.8" width="3.6" height="2.8" fill="#f2a24e"/>
<rect x="339.11" y="1027.8" width="2.6" height="2.8" fill="#f2a24e"/>
<rect x="173.3" y="1020" width="2" height="2" fill="#f2a24e"/>
<rect x="177.11" y="1020" width="2" height="2" fill="#f2a24e"/>
<rect x="182.26" y="1019.6" width="3.2" height="2.8" fill="#f2a24e"/>
<rect x="187.18" y="1020" width="2" height="2" fill="#f2a24e"/>
<rect x="191.26" y="1019.6" width="3.6" height="2.8" fill="#f2a24e"/>
<rect x="197.14" y="1020" width="2.2" height="2" fill="#f2a24e"/>
<rect x="200.96" y="1019.6" width="3.2" height="2.8" fill="#f2a24e"/>
<rect x="205.68" y="1020" width="2.2" height="2" fill="#f2a24e"/>
<rect x="210.74" y="1020" width="2.2" height="2" fill="#f2a24e"/>
<rect x="216.45" y="1019.6" width="2.6" height="2.8" fill="#f2a24e"/>
<rect x="220.51" y="1019.6" width="3.6" height="2.8" fill="#f2a24e"/>
<rect x="225.67" y="1019.6" width="3.6" height="2.8" fill="#f2a24e"/>
<rect x="231.63" y="1020" width="1.8" height="2" fill="#f2a24e"/>
<rect x="173.3" y="1008.4" width="3.6" height="2.8" fill="#f2a24e"/>
<rect x="179.17" y="1008.4" width="3.6" height="2.8" fill="#f2a24e"/>
<rect x="184.66" y="1008.4" width="3.6" height="2.8" fill="#f2a24e"/>
<rect x="189.89" y="1008.8" width="1.8" height="2" fill="#f2a24e"/>
<rect x="194.9" y="1008.4" width="2.6" height="2.8" fill="#f2a24e"/>
<rect x="200.06" y="1008.8" width="2" height="2" fill="#f2a24e"/>
<rect x="203.54" y="1008.8" width="2.2" height="2" fill="#f2a24e"/>
<rect x="207.41" y="1008.4" width="3.6" height="2.8" fill="#f2a24e"/>
<rect x="212.66" y="1008.8" width="1.8" height="2" fill="#f2a24e"/>
<rect x="217.37" y="1008.4" width="3.2" height="2.8" fill="#f2a24e"/>
<rect x="223.35" y="1008.4" width="3.2" height="2.8" fill="#f2a24e"/>
<rect x="228.09" y="1008.4" width="3.2" height="2.8" fill="#f2a24e"/>
<rect x="234.76" y="1008.4" width="3.6" height="2.8" fill="#f2a24e"/>
<path d="M172.3,1063 C176.5,1061.5 180,1055 186.6,1053.4 C193,1053.2 201,1055 207.7,1058.3 C211,1061 213,1063.2 216,1063.2 C220,1063 224,1059 229.6,1058.3 C235,1057.8 240,1059 245,1060 L252.5,1061 L249,1062.4 L244,1063.2 L256,1066 L268,1063.5 C269.5,1062.6 271,1062.4 272,1062.6 C274.5,1063.5 277,1065 279.5,1064.9 C281.5,1064.8 283.5,1063.6 284.8,1062.1 L284.8,1113.6 L172.3,1113.6 Z" fill="#b7cedb" stroke="#7e8e98" stroke-width="0.7"/>
<line x1="172.3" y1="1063.3" x2="284.6" y2="1063.3" stroke="#8a9ea9" stroke-width="1.1" />
<line x1="172.3" y1="1071.6" x2="284.6" y2="1071.6" stroke="#8a9ea9" stroke-width="1.1" />
<line x1="172.3" y1="1080.3" x2="284.6" y2="1080.3" stroke="#8a9ea9" stroke-width="1.1" />
<line x1="172.3" y1="1088.9" x2="284.6" y2="1088.9" stroke="#8a9ea9" stroke-width="1.1" />
<line x1="172.3" y1="1097.4" x2="284.6" y2="1097.4" stroke="#8a9ea9" stroke-width="1.1" />
<line x1="172.3" y1="1106.3" x2="284.6" y2="1106.3" stroke="#8a9ea9" stroke-width="1.1" />
<line x1="172.3" y1="1063" x2="172.3" y2="1113.6" stroke="#7e8e98" stroke-width="0.9" />
<line x1="198.9" y1="1053.8" x2="198.9" y2="1063.3" stroke="#55616a" stroke-width="0.8" />
<ellipse cx="198.9" cy="1058.8" rx="6.2" ry="2.1" fill="#111"/>
<line x1="234.8" y1="1054.8" x2="234.8" y2="1063.3" stroke="#55616a" stroke-width="0.8" />
<ellipse cx="234.8" cy="1059.8" rx="6.2" ry="2.1" fill="#111"/>
<line x1="227.8" y1="1063.3" x2="227.8" y2="1071.6" stroke="#55616a" stroke-width="0.8" />
<ellipse cx="227.8" cy="1067.6" rx="6.2" ry="2.1" fill="#111"/>
<line x1="198.9" y1="1071.6" x2="198.9" y2="1080.3" stroke="#55616a" stroke-width="0.8" />
<ellipse cx="198.9" cy="1075.6" rx="6.2" ry="2.1" fill="#111"/>
<line x1="272.5" y1="1071.6" x2="272.5" y2="1080.3" stroke="#55616a" stroke-width="0.8" />
<ellipse cx="272.5" cy="1075.8" rx="6.2" ry="2.1" fill="#111"/>
<line x1="228.3" y1="1080.3" x2="228.3" y2="1088.9" stroke="#55616a" stroke-width="0.8" />
<ellipse cx="228.3" cy="1084.8" rx="6.2" ry="2.1" fill="#111"/>
<line x1="199.3" y1="1088.9" x2="199.3" y2="1097.4" stroke="#55616a" stroke-width="0.8" />
<ellipse cx="199.3" cy="1093.3" rx="6.2" ry="2.1" fill="#111"/>
<line x1="260.4" y1="1088.9" x2="260.4" y2="1097.4" stroke="#55616a" stroke-width="0.8" />
<ellipse cx="260.4" cy="1093.3" rx="6.2" ry="2.1" fill="#111"/>
<line x1="228.3" y1="1097.4" x2="228.3" y2="1106.3" stroke="#55616a" stroke-width="0.8" />
<ellipse cx="228.3" cy="1102.3" rx="6.2" ry="2.1" fill="#111"/>
<line x1="199.3" y1="1106.3" x2="199.3" y2="1113.6" stroke="#55616a" stroke-width="0.8" />
<ellipse cx="199.3" cy="1110.1" rx="6.2" ry="2.1" fill="#111"/>
<line x1="260.4" y1="1106.3" x2="260.4" y2="1113.6" stroke="#55616a" stroke-width="0.8" />
<ellipse cx="260.4" cy="1110.1" rx="6.2" ry="2.1" fill="#111"/>
<path d="M244,1063.3 C240.5,1068 242.5,1077.5 254.5,1078.6 C264.5,1079.3 271.5,1071 268.6,1063.6 C266.5,1061.6 262.5,1062.2 260,1064.2 C256.5,1062.3 250,1061.6 244,1063.3 Z" fill="#f2aa9f" stroke="#9a7b7b" stroke-width="0.7"/>
<circle cx="249.19" cy="1071.44" r="0.92" fill="#f19a4a" opacity="0.85"/>
<circle cx="258.7" cy="1072.7" r="0.74" fill="#f19a4a" opacity="0.85"/>
<circle cx="249.74" cy="1066.63" r="1.3" fill="#f19a4a" opacity="0.85"/>
<circle cx="255.23" cy="1075.97" r="0.99" fill="#f19a4a" opacity="0.85"/>
<circle cx="259.62" cy="1065.33" r="1.08" fill="#f19a4a" opacity="0.85"/>
<circle cx="265.57" cy="1071.11" r="1.14" fill="#f19a4a" opacity="0.85"/>
<circle cx="262.71" cy="1072.16" r="0.88" fill="#f19a4a" opacity="0.85"/>
<circle cx="255.29" cy="1074.14" r="1.23" fill="#f19a4a" opacity="0.85"/>
<circle cx="253.27" cy="1075.41" r="0.97" fill="#f19a4a" opacity="0.85"/>
<circle cx="254.34" cy="1072.71" r="0.88" fill="#f19a4a" opacity="0.85"/>
<circle cx="256.19" cy="1068.98" r="0.91" fill="#f19a4a" opacity="0.85"/>
<circle cx="258.21" cy="1072.06" r="1.24" fill="#f19a4a" opacity="0.85"/>
<circle cx="260.45" cy="1065.53" r="1.22" fill="#f19a4a" opacity="0.85"/>
<circle cx="257.8" cy="1074.06" r="0.83" fill="#f19a4a" opacity="0.85"/>
<circle cx="264.62" cy="1071.89" r="0.87" fill="#f19a4a" opacity="0.85"/>
<circle cx="263.82" cy="1069.36" r="0.79" fill="#f19a4a" opacity="0.85"/>
<circle cx="250.64" cy="1074.92" r="1.22" fill="#f19a4a" opacity="0.85"/>
<circle cx="251.6" cy="1076.65" r="1.29" fill="#f19a4a" opacity="0.85"/>
<circle cx="251.05" cy="1064.19" r="1.06" fill="#f19a4a" opacity="0.85"/>
<circle cx="253.61" cy="1072.46" r="0.79" fill="#f19a4a" opacity="0.85"/>
<circle cx="266.31" cy="1068.86" r="0.98" fill="#f19a4a" opacity="0.85"/>
<circle cx="256.52" cy="1072.98" r="1.06" fill="#f19a4a" opacity="0.85"/>
<circle cx="257.54" cy="1072.61" r="1.26" fill="#f19a4a" opacity="0.85"/>
<circle cx="256.18" cy="1069.68" r="1.13" fill="#f19a4a" opacity="0.85"/>
<circle cx="249.18" cy="1067.67" r="1.29" fill="#f19a4a" opacity="0.85"/>
<circle cx="256.55" cy="1071.5" r="0.71" fill="#f19a4a" opacity="0.85"/>
<circle cx="253.8" cy="1071.99" r="0.71" fill="#f19a4a" opacity="0.85"/>
<circle cx="259.01" cy="1072.8" r="0.74" fill="#f19a4a" opacity="0.85"/>
<circle cx="259.31" cy="1070.23" r="1.11" fill="#f19a4a" opacity="0.85"/>
<circle cx="252.17" cy="1073.96" r="1.14" fill="#f19a4a" opacity="0.85"/>
<circle cx="249.53" cy="1070.07" r="1.06" fill="#f19a4a" opacity="0.85"/>
<circle cx="251.32" cy="1068.64" r="0.89" fill="#f19a4a" opacity="0.85"/>
<circle cx="252.6" cy="1072.23" r="0.88" fill="#f19a4a" opacity="0.85"/>
<circle cx="252.81" cy="1074.97" r="0.72" fill="#f19a4a" opacity="0.85"/>
<circle cx="257.8" cy="1074.4" r="0.89" fill="#f19a4a" opacity="0.85"/>
<circle cx="248.79" cy="1075.46" r="0.84" fill="#f19a4a" opacity="0.85"/>
<circle cx="247.87" cy="1069.75" r="1.12" fill="#f19a4a" opacity="0.85"/>
<circle cx="245.65" cy="1067.99" r="0.9" fill="#f19a4a" opacity="0.85"/>
<rect x="205" y="1051.5" width="3.6" height="2.8" fill="#f2a24e"/>
<rect x="211.55" y="1051.5" width="3.2" height="2.8" fill="#f2a24e"/>
<rect x="217.43" y="1051.5" width="3.2" height="2.8" fill="#f2a24e"/>
<rect x="222.04" y="1051.9" width="2.2" height="2" fill="#f2a24e"/>
<rect x="226.58" y="1051.9" width="2" height="2" fill="#f2a24e"/>
<rect x="231.93" y="1051.9" width="2.2" height="2" fill="#f2a24e"/>
<rect x="236.04" y="1051.9" width="2" height="2" fill="#f2a24e"/>
<rect x="239.99" y="1051.9" width="1.8" height="2" fill="#f2a24e"/>
<rect x="243.38" y="1051.9" width="2.2" height="2" fill="#f2a24e"/>
<rect x="247.79" y="1051.9" width="1.8" height="2" fill="#f2a24e"/>
<rect x="251.57" y="1051.9" width="2.2" height="2" fill="#f2a24e"/>
<rect x="255.48" y="1051.9" width="1.8" height="2" fill="#f2a24e"/>
<rect x="260.17" y="1051.5" width="2.6" height="2.8" fill="#f2a24e"/>
<rect x="265.97" y="1051.5" width="3.2" height="2.8" fill="#f2a24e"/>
<rect x="272.71" y="1051.5" width="2.6" height="2.8" fill="#f2a24e"/>
<rect x="277.27" y="1051.9" width="2" height="2" fill="#f2a24e"/>
<rect x="281.47" y="1051.9" width="2" height="2" fill="#f2a24e"/>
<rect x="286.92" y="1051.5" width="3.6" height="2.8" fill="#f2a24e"/>
<circle cx="450.5" cy="322.8" r="3.2" fill="#fff" stroke="#8a8a8a" stroke-width="0.9"/>
<text transform="translate(458.6,326.7) scale(1.2,1)" x="0" y="0" font-size="12" letter-spacing="0.94" fill="#231f20" style="stroke-width:0.12px">18XKR-20</text>
<circle cx="450.7" cy="352.6" r="3.2" fill="#fff" stroke="#8a8a8a" stroke-width="0.9"/>
<text transform="translate(457.9,353.6) scale(1.2,1)" x="0" y="0" font-size="12" letter-spacing="0.94" fill="#231f20" style="stroke-width:0.12px">19XKR-18</text>
<circle cx="450.5" cy="368.4" r="3.2" fill="#fff" stroke="#8a8a8a" stroke-width="0.9"/>
<text transform="translate(457.1,373.5) scale(1.2,1)" x="0" y="0" font-size="12" letter-spacing="0.94" fill="#231f20" style="stroke-width:0.12px">19XKR-16</text>
<circle cx="450.5" cy="395.3" r="3.2" fill="#fff" stroke="#8a8a8a" stroke-width="0.9"/>
<text transform="translate(458.6,399.3) scale(1.2,1)" x="0" y="0" font-size="12" letter-spacing="0.94" fill="#231f20" style="stroke-width:0.12px">19XKR-15</text>
<circle cx="450.5" cy="420.8" r="3.2" fill="#fff" stroke="#8a8a8a" stroke-width="0.9"/>
<text transform="translate(456.4,424.9) scale(1.2,1)" x="0" y="0" font-size="12" letter-spacing="0.94" fill="#231f20" style="stroke-width:0.12px">19XKR-14m</text>
<circle cx="450.5" cy="447.5" r="3.2" fill="#fff" stroke="#8a8a8a" stroke-width="0.9"/>
<text transform="translate(458.6,451.5) scale(1.2,1)" x="0" y="0" font-size="12" letter-spacing="0.94" fill="#231f20" style="stroke-width:0.12px">19XKR-14l</text>
<circle cx="450.5" cy="474.3" r="3.2" fill="#fff" stroke="#8a8a8a" stroke-width="0.9"/>
<text transform="translate(458.6,479.3) scale(1.2,1)" x="0" y="0" font-size="12" letter-spacing="0.94" fill="#231f20" style="stroke-width:0.12px">19XKR-14k</text>
<circle cx="450.5" cy="500.8" r="3.2" fill="#fff" stroke="#8a8a8a" stroke-width="0.9"/>
<text transform="translate(457.9,504.1) scale(1.2,1)" x="0" y="0" font-size="12" letter-spacing="0.94" fill="#231f20" style="stroke-width:0.12px">19XKR-14j</text>
<circle cx="450.5" cy="527.5" r="3.2" fill="#fff" stroke="#8a8a8a" stroke-width="0.9"/>
<text transform="translate(456.1,531.4) scale(1.2,1)" x="0" y="0" font-size="12" letter-spacing="0.94" fill="#231f20" style="stroke-width:0.12px">19XKR-14i</text>
<circle cx="450.5" cy="554.3" r="3.2" fill="#fff" stroke="#8a8a8a" stroke-width="0.9"/>
<text transform="translate(458.6,558.1) scale(1.2,1)" x="0" y="0" font-size="12" letter-spacing="0.94" fill="#231f20" style="stroke-width:0.12px">19XKR-14h</text>
<circle cx="450.5" cy="581" r="3.2" fill="#fff" stroke="#8a8a8a" stroke-width="0.9"/>
<text transform="translate(457.6,585) scale(1.2,1)" x="0" y="0" font-size="12" letter-spacing="0.94" fill="#231f20" style="stroke-width:0.12px">19XKR-14g</text>
<circle cx="450.5" cy="607.3" r="3.2" fill="#fff" stroke="#8a8a8a" stroke-width="0.9"/>
<text transform="translate(457.1,611.7) scale(1.2,1)" x="0" y="0" font-size="12" letter-spacing="0.94" fill="#231f20" style="stroke-width:0.12px">19XKR-14f</text>
<circle cx="450.5" cy="634.3" r="3.2" fill="#fff" stroke="#8a8a8a" stroke-width="0.9"/>
<text transform="translate(456.1,639.1) scale(1.2,1)" x="0" y="0" font-size="12" letter-spacing="0.94" fill="#231f20" style="stroke-width:0.12px">19XKR-14e</text>
<circle cx="450.5" cy="660.5" r="3.2" fill="#fff" stroke="#8a8a8a" stroke-width="0.9"/>
<text transform="translate(457.1,665.1) scale(1.2,1)" x="0" y="0" font-size="12" letter-spacing="0.94" fill="#231f20" style="stroke-width:0.12px">19XKR-14d</text>
<circle cx="450.5" cy="687.3" r="3.2" fill="#fff" stroke="#8a8a8a" stroke-width="0.9"/>
<text transform="translate(456.4,691.6) scale(1.2,1)" x="0" y="0" font-size="12" letter-spacing="0.94" fill="#231f20" style="stroke-width:0.12px">19XKR-14c</text>
<circle cx="450.5" cy="714" r="3.2" fill="#fff" stroke="#8a8a8a" stroke-width="0.9"/>
<text transform="translate(456.4,716.5) scale(1.2,1)" x="0" y="0" font-size="12" letter-spacing="0.94" fill="#231f20" style="stroke-width:0.12px">19XKR-14b</text>
<circle cx="450.5" cy="740.5" r="3.2" fill="#fff" stroke="#8a8a8a" stroke-width="0.9"/>
<text transform="translate(457.1,744.2) scale(1.2,1)" x="0" y="0" font-size="12" letter-spacing="0.94" fill="#231f20" style="stroke-width:0.12px">19XKR-14a</text>
<circle cx="450.5" cy="767.4" r="3.2" fill="#fff" stroke="#8a8a8a" stroke-width="0.9"/>
<text transform="translate(458.6,770.8) scale(1.2,1)" x="0" y="0" font-size="12" letter-spacing="0.94" fill="#231f20" style="stroke-width:0.12px">18XKR-14</text>
<circle cx="449.8" cy="788.6" r="3.2" fill="#fff" stroke="#8a8a8a" stroke-width="0.9"/>
<text transform="translate(455.3,793) scale(1.2,1)" x="0" y="0" font-size="12" letter-spacing="0.94" fill="#231f20" style="stroke-width:0.12px">19XKR-13d</text>
<circle cx="449.8" cy="807.8" r="3.2" fill="#fff" stroke="#8a8a8a" stroke-width="0.9"/>
<text transform="translate(454.2,811.6) scale(1.2,1)" x="0" y="0" font-size="12" letter-spacing="0.94" fill="#231f20" style="stroke-width:0.12px">19XKR-13c</text>
<circle cx="449.8" cy="828" r="3.2" fill="#fff" stroke="#8a8a8a" stroke-width="0.9"/>
<text transform="translate(454.4,830.9) scale(1.2,1)" x="0" y="0" font-size="12" letter-spacing="0.94" fill="#231f20" style="stroke-width:0.12px">19XKR-13b</text>
<circle cx="450.5" cy="847" r="3.2" fill="#fff" stroke="#8a8a8a" stroke-width="0.9"/>
<text transform="translate(455.3,851.6) scale(1.2,1)" x="0" y="0" font-size="12" letter-spacing="0.94" fill="#231f20" style="stroke-width:0.12px">19XKR-13a</text>
<circle cx="450.5" cy="871.8" r="3.2" fill="#fff" stroke="#8a8a8a" stroke-width="0.9"/>
<text transform="translate(458.6,875.9) scale(1.2,1)" x="0" y="0" font-size="12" letter-spacing="0.94" fill="#231f20" style="stroke-width:0.12px">18XKR-13</text>
<circle cx="450.4" cy="919" r="3.2" fill="#fff" stroke="#8a8a8a" stroke-width="0.9"/>
<text transform="translate(458.4,923.3) scale(1.2,1)" x="0" y="0" font-size="12" letter-spacing="0.94" fill="#231f20" style="stroke-width:0.12px">18XKR-12</text>
<circle cx="450.5" cy="949.5" r="3.2" fill="#fff" stroke="#8a8a8a" stroke-width="0.9"/>
<text transform="translate(458.4,953.8) scale(1.2,1)" x="0" y="0" font-size="12" letter-spacing="0.94" fill="#231f20" style="stroke-width:0.12px">18XKR-11</text>
<circle cx="450.5" cy="996.3" r="3.2" fill="#fff" stroke="#8a8a8a" stroke-width="0.9"/>
<text transform="translate(458.4,1000.5) scale(1.2,1)" x="0" y="0" font-size="12" letter-spacing="0.94" fill="#231f20" style="stroke-width:0.12px">18XKR-10</text>
<circle cx="450" cy="1008.2" r="3.2" fill="#fff" stroke="#8a8a8a" stroke-width="0.9"/>
<text transform="translate(454.9,1011.7) scale(1.2,1)" x="0" y="0" font-size="12" letter-spacing="0.94" fill="#231f20" style="stroke-width:0.12px">18XKR-08A</text>
<circle cx="450.2" cy="1018" r="3.3" fill="#9a9a9a"/>
<circle cx="450.2" cy="1018" r="2.2" fill="#111"/>
<text transform="translate(454.9,1021.9) scale(1.2,1)" x="0" y="0" font-size="12" letter-spacing="0.94" fill="#231f20" style="stroke-width:0.12px">18XKR-06A</text>
<circle cx="450.5" cy="1058.7" r="3.3" fill="#9a9a9a"/>
<circle cx="450.5" cy="1058.7" r="2.2" fill="#111"/>
<text transform="translate(458.4,1062.7) scale(1.2,1)" x="0" y="0" font-size="12" letter-spacing="0.94" fill="#231f20" style="stroke-width:0.12px">18XKR-02</text>
<text transform="translate(367.9,1007) scale(1.2,1)" x="0" y="0" font-size="12" letter-spacing="0.94" fill="#231f20" style="stroke-width:0.12px">18XKR-09</text>
<text transform="translate(367.9,1014) scale(1.2,1)" x="0" y="0" font-size="12" letter-spacing="0.94" fill="#231f20" style="stroke-width:0.12px">18XKR-08</text>
<text transform="translate(367.9,1021.5) scale(1.2,1)" x="0" y="0" font-size="12" letter-spacing="0.94" fill="#231f20" style="stroke-width:0.12px">18XKR-06</text>
<text transform="translate(367.9,1032.3) scale(1.2,1)" x="0" y="0" font-size="12" letter-spacing="0.94" fill="#231f20" style="stroke-width:0.12px">18XKR-05</text>
<text transform="translate(367.9,1057.5) scale(1.2,1)" x="0" y="0" font-size="12" letter-spacing="0.94" fill="#231f20" style="stroke-width:0.12px">18XKR-03</text>
<text transform="translate(367.9,1069.6) scale(1.2,1)" x="0" y="0" font-size="12" letter-spacing="0.94" fill="#231f20" style="stroke-width:0.12px">18XKR-01</text>
<rect x="580.1" y="151" width="51.4" height="22.3" fill="#fff" stroke="#3a3232" stroke-width="1.2" />
<rect x="582.5" y="160.4" width="7" height="3.2" rx="1.4" fill="#1a1414"/>
<rect x="594" y="159.7" width="11" height="4.6" rx="1.4" fill="#1a1414"/>
<rect x="610" y="160.4" width="6.5" height="3.2" rx="1.4" fill="#1a1414"/>
<rect x="621" y="160.3" width="7" height="3.4" rx="1.4" fill="#1a1414"/>
<text x="571.1" y="190.5" font-size="14.3" textLength="69.4" lengthAdjust="spacingAndGlyphs" fill="#231f20" >Marlstone</text>
<rect x="580.1" y="225.1" width="50.9" height="22.9" fill="#fff" stroke="#3a3232" stroke-width="1.2" />
<line x1="580.1" y1="236.4" x2="631" y2="236.4" stroke="#3a3232" stroke-width="1.1" />
<line x1="605.5" y1="225.1" x2="605.5" y2="236.4" stroke="#3a3232" stroke-width="0.9" />
<ellipse cx="605.5" cy="231.2" rx="3.2" ry="2.2" fill="#1a1414"/>
<line x1="592.8" y1="236.4" x2="592.8" y2="248" stroke="#3a3232" stroke-width="0.9" />
<ellipse cx="592.8" cy="241.6" rx="3.2" ry="2.2" fill="#1a1414"/>
<line x1="619.9" y1="236.4" x2="619.9" y2="248" stroke="#3a3232" stroke-width="0.9" />
<ellipse cx="619.9" cy="241.6" rx="3.2" ry="2.2" fill="#1a1414"/>
<text x="580.91" y="264.8" font-size="14.3" textLength="55.26" lengthAdjust="spacingAndGlyphs" fill="#231f20" >Nodular</text>
<text x="574.73" y="278.7" font-size="14.3" textLength="67.77" lengthAdjust="spacingAndGlyphs" fill="#231f20" >limestone</text>
<rect x="580.1" y="316.8" width="52.5" height="22.6" fill="#fff" stroke="#3a3232" stroke-width="1.2" />
<line x1="582.5" y1="328.8" x2="630" y2="328.8" stroke="#777" stroke-width="1.1" stroke-dasharray="3.2 1 1 1"/>
<text x="585.73" y="357" font-size="14.3" textLength="46.6" lengthAdjust="spacingAndGlyphs" fill="#231f20" >Muddy</text>
<text x="573.46" y="371.5" font-size="14.3" textLength="72.23" lengthAdjust="spacingAndGlyphs" fill="#231f20" >sandstone</text>
<rect x="580.1" y="409.2" width="50.7" height="23.4" fill="#fff" stroke="#3a3232" stroke-width="1.2" />
<line x1="582.5" y1="420.4" x2="627" y2="420.4" stroke="#555" stroke-width="1.1" stroke-dasharray="3.5 1 1 1"/>
<text x="593.48" y="451" font-size="14.3" textLength="29.75" lengthAdjust="spacingAndGlyphs" fill="#231f20" >Silty</text>
<text x="574.57" y="464.7" font-size="14.3" textLength="68.43" lengthAdjust="spacingAndGlyphs" fill="#231f20" >mudstone</text>
<rect x="580.2" y="502.6" width="48.3" height="22.9" fill="#fff" stroke="#3a3232" stroke-width="1.2" />
<line x1="581" y1="513.4" x2="628" y2="513.4" stroke="#333" stroke-width="1" stroke-dasharray="2.6 1.6"/>
<text x="571.32" y="545.8" font-size="14.3" textLength="68.78" lengthAdjust="spacingAndGlyphs" fill="#231f20" >Mudstone</text>
<rect x="580.2" y="580" width="50.4" height="22.9" fill="#fff" stroke="#3a3232" stroke-width="1.2" />
<line x1="582.5" y1="592.1" x2="627" y2="592.1" stroke="#555" stroke-width="0.9" stroke-dasharray="0.9 1.9"/>
<text x="571.19" y="626.3" font-size="14.3" textLength="74.5" lengthAdjust="spacingAndGlyphs" fill="#231f20" >Sandstone</text>
<path d="M572.3,670.4 L591.3,670.4 M581.8,670.4 C580.8,668.4 580.8,665.4 581.8,662.4 L587.8,661.4 M590.3,670.4 C593.3,669.4 596.3,667.4 600.3,665.4 M596.3,667.4 L610.8,668.9 M591.3,670.4 C594.3,672.4 597.3,674.4 604.8,674.5" fill="none" stroke="#3a3232" stroke-width="1"/>
<g transform="translate(590.1,688.4) rotate(99.07)"><rect x="-9.52" y="-2.3" width="19.04" height="4.6" rx="2.3" fill="#fff" stroke="#999" stroke-width="0.8"/><path d="M-7.55,-2.3 Q-5.55,0 -7.55,2.3" fill="none" stroke="#999" stroke-width="0.7"/><path d="M-4.37,-2.3 Q-2.37,0 -4.37,2.3" fill="none" stroke="#999" stroke-width="0.7"/><path d="M-1.2,-2.3 Q0.8,0 -1.2,2.3" fill="none" stroke="#999" stroke-width="0.7"/><path d="M1.97,-2.3 Q3.97,0 1.97,2.3" fill="none" stroke="#999" stroke-width="0.7"/><path d="M5.15,-2.3 Q7.15,0 5.15,2.3" fill="none" stroke="#999" stroke-width="0.7"/></g>
<text x="620.06" y="677.1" font-size="14.3" textLength="38.71" lengthAdjust="spacingAndGlyphs" fill="#231f20" >Trace</text>
<text x="617.28" y="693" font-size="14.3" textLength="44" lengthAdjust="spacingAndGlyphs" fill="#231f20" >fossils</text>
<polyline points="573.1,739.3 574.36,739.13 575.61,738.63 576.87,737.86 578.13,736.88 579.38,735.8 580.64,734.72 581.9,733.74 583.15,732.97 584.41,732.47 585.67,732.3 586.92,732.47 588.18,732.97 589.44,733.74 590.69,734.72 591.95,735.8 593.21,736.88 594.46,737.86 595.72,738.63 596.98,739.13 598.23,739.3 599.49,739.13 600.75,738.63 602,737.86 603.26,736.88 604.52,735.8 605.77,734.72 607.03,733.74 608.29,732.97 609.54,732.47 610.8,732.3 612.06,732.47 613.31,732.97 614.57,733.74 615.83,734.72 617.08,735.8 618.34,736.88 619.6,737.86 620.85,738.63 622.11,739.13 623.37,739.3 624.62,739.13 625.88,738.63 627.14,737.86 628.39,736.88 629.65,735.8 630.91,734.72 632.16,733.74 633.42,732.97 634.68,732.47 635.93,732.3 637.19,732.47 638.45,732.97 639.7,733.74 640.96,734.72 642.22,735.8 643.47,736.88 644.73,737.86 645.99,738.63 647.24,739.13 648.5,739.3" fill="none" stroke="#3a3232" stroke-width="1.1"/>
<text x="571.33" y="756" font-size="14.3" textLength="90.53" lengthAdjust="spacingAndGlyphs" fill="#231f20" >Ripple marks</text>
<path d="M583.1,794.4 Q595.21,801 610,800.7" fill="none" stroke="#3a3232" stroke-width="1"/>
<path d="M607,796 Q617.35,801 630,800.7" fill="none" stroke="#3a3232" stroke-width="1"/>
<path d="M624.5,795 Q636.42,800.3 651,800" fill="none" stroke="#3a3232" stroke-width="1"/>
<path d="M641.5,795 Q650.95,798.8 662.5,798.5" fill="none" stroke="#3a3232" stroke-width="1"/>
<text x="582.98" y="823.3" font-size="14.3" textLength="81.74" lengthAdjust="spacingAndGlyphs" fill="#231f20" >Small-sized</text>
<text x="574.23" y="837.5" font-size="14.3" textLength="98.88" lengthAdjust="spacingAndGlyphs" fill="#231f20" >cross-bedding</text>
<line x1="589" y1="878.6" x2="653" y2="883" stroke="#555" stroke-width="0.9" stroke-dasharray="0.9 2.3"/>
<line x1="589" y1="884.8" x2="653" y2="889" stroke="#555" stroke-width="0.9" stroke-dasharray="0.9 2.3"/>
<line x1="589" y1="890.2" x2="653" y2="894.6" stroke="#555" stroke-width="0.9" stroke-dasharray="0.9 2.3"/>
<text x="581.99" y="913.3" font-size="14.3" textLength="83.23" lengthAdjust="spacingAndGlyphs" fill="#231f20" >Large-sized</text>
<text x="574.23" y="927.4" font-size="14.3" textLength="98.78" lengthAdjust="spacingAndGlyphs" fill="#231f20" >cross-bedding</text>
<path d="M598.99,969.89 Q610.38,981.86 621.4,968.8" fill="none" stroke="#3a3232" stroke-width="1.1"/>
<path d="M598.31,977.19 Q610.22,988.86 622.4,976.1" fill="none" stroke="#3a3232" stroke-width="1.1"/>
<path d="M597.2,985.11 Q610.86,996.75 624.3,983.8" fill="none" stroke="#3a3232" stroke-width="1.1"/>
<text x="587.05" y="1006.6" font-size="14.3" textLength="48.74" lengthAdjust="spacingAndGlyphs" fill="#231f20" >Trough</text>
<text x="571.23" y="1022.1" font-size="14.3" textLength="99.29" lengthAdjust="spacingAndGlyphs" fill="#231f20" >cross-bedding</text>
<path d="M578.43,1049 L597.21,1049 C600.08,1049.53 599.2,1052.15 598.54,1054.25 C595.88,1057.92 591.47,1059.5 588.15,1059.5 C583.73,1059.5 578.21,1057.4 577.1,1053.72 C576.88,1051.1 577.54,1049 578.43,1049 Z" fill="none" stroke="#3a3232" stroke-width="1.0"/>
<path d="M578.87,1049.42 C579.53,1054.25 583.73,1057.4 588.15,1057.4 C593.01,1057.4 596.99,1054.25 597.65,1049.42" fill="none" stroke="#3a3232" stroke-width="0.9"/>
<text x="607.05" y="1056.8" font-size="14.3" textLength="71.71" lengthAdjust="spacingAndGlyphs" fill="#231f20" >Ostracods</text>
<circle cx="335.5" cy="1096.4" r="3.3" fill="#9a9a9a"/>
<circle cx="335.5" cy="1096.4" r="2.2" fill="#111"/>
<text x="342.61" y="1100.4" font-size="14.5" textLength="143.39" lengthAdjust="spacingAndGlyphs" fill="#231f20" >Fossiliferous sample</text>
<circle cx="513.5" cy="1096.2" r="3" fill="#fff" stroke="#8a8a8a" stroke-width="0.9"/>
<text x="520.32" y="1100.4" font-size="14.5" textLength="141.58" lengthAdjust="spacingAndGlyphs" fill="#231f20" >Barren fossil sample</text>
<path d="M343.7,1011.5 L362.06,1011.5 C364.86,1012.05 364,1014.83 363.35,1017.05 C360.76,1020.94 356.44,1022.6 353.2,1022.6 C348.88,1022.6 343.48,1020.38 342.4,1016.5 C342.18,1013.72 342.83,1011.5 343.7,1011.5 Z" fill="none" stroke="#3a3232" stroke-width="1.0"/>
<path d="M344.13,1011.94 C344.78,1017.05 348.88,1020.38 353.2,1020.38 C357.95,1020.38 361.84,1017.05 362.49,1011.94" fill="none" stroke="#3a3232" stroke-width="0.9"/>
<path d="M339.59,1051 L357.87,1051 C360.66,1051.53 359.8,1054.15 359.16,1056.25 C356.57,1059.92 352.28,1061.5 349.05,1061.5 C344.75,1061.5 339.38,1059.4 338.3,1055.72 C338.09,1053.1 338.73,1051 339.59,1051 Z" fill="none" stroke="#3a3232" stroke-width="1.0"/>
<path d="M340.02,1051.42 C340.67,1056.25 344.75,1059.4 349.05,1059.4 C353.78,1059.4 357.65,1056.25 358.3,1051.42" fill="none" stroke="#3a3232" stroke-width="0.9"/>
<path d="M309.44,1051.08 Q318.61,1060.74 327.47,1050.2" fill="none" stroke="#3a3232" stroke-width="1"/>
<path d="M308.89,1056.98 Q318.47,1066.39 328.27,1056.1" fill="none" stroke="#3a3232" stroke-width="1"/>
<path d="M308,1063.36 Q318.99,1072.76 329.8,1062.31" fill="none" stroke="#3a3232" stroke-width="1"/>
<path d="M377.9,232.18 Q382.3,234.1 387.67,233.8" fill="none" stroke="#777" stroke-width="0.7"/>
<path d="M384.67,232.18 Q389.07,234.1 394.45,233.8" fill="none" stroke="#777" stroke-width="0.7"/>
<path d="M391.45,232.18 Q395.85,234.1 401.23,233.8" fill="none" stroke="#777" stroke-width="0.7"/>
<path d="M398.23,232.18 Q402.62,234.1 408,233.8" fill="none" stroke="#777" stroke-width="0.7"/>
<path d="M370.4,245.38 Q374.82,247.3 380.22,247" fill="none" stroke="#777" stroke-width="0.7"/>
<path d="M377.22,245.38 Q381.65,247.3 387.05,247" fill="none" stroke="#777" stroke-width="0.7"/>
<path d="M384.05,245.38 Q388.47,247.3 393.88,247" fill="none" stroke="#777" stroke-width="0.7"/>
<path d="M390.88,245.38 Q395.3,247.3 400.7,247" fill="none" stroke="#777" stroke-width="0.7"/>
<path d="M374.3,279.96 Q378.73,281.7 384.15,281.4" fill="none" stroke="#777" stroke-width="0.7"/>
<path d="M381.15,279.96 Q385.58,281.7 391,281.4" fill="none" stroke="#777" stroke-width="0.7"/>
<path d="M388,279.96 Q392.43,281.7 397.85,281.4" fill="none" stroke="#777" stroke-width="0.7"/>
<path d="M394.85,279.96 Q399.28,281.7 404.7,281.4" fill="none" stroke="#777" stroke-width="0.7"/>
<path d="M354.3,362.16 Q358.75,364.8 364.2,364.5" fill="none" stroke="#777" stroke-width="0.7"/>
<path d="M361.2,362.16 Q365.66,364.8 371.1,364.5" fill="none" stroke="#777" stroke-width="0.7"/>
<path d="M368.1,362.16 Q372.56,364.8 378,364.5" fill="none" stroke="#777" stroke-width="0.7"/>
<path d="M375,362.16 Q379.45,364.8 384.9,364.5" fill="none" stroke="#777" stroke-width="0.7"/>
<path d="M351.7,242.3 L362,242.3 M356.3,242.3 C355.8,239.5 355.8,237 356.3,235 L359,234 M361.5,242.3 C364,241 366,239.5 368.5,238.8 L370.5,239.2 M364.5,240.2 L365.5,237.6 M362,242.5 C364,243.5 366.5,243.9 369,243.6" fill="none" stroke="#555" stroke-width="0.75"/>
<path d="M353.1,373.5 L363.4,373.5 M357.7,373.5 C357.2,370.7 357.2,368.2 357.7,366.2 L360.4,365.2 M362.9,373.5 C365.4,372.2 367.4,370.7 369.9,370 L371.9,370.4 M365.9,371.4 L366.9,368.8 M363.4,373.7 C365.4,374.7 367.9,375.1 370.4,374.8" fill="none" stroke="#555" stroke-width="0.75"/>
<polyline points="355.3,353.6 355.78,353.54 356.25,353.37 356.73,353.11 357.2,352.77 357.68,352.4 358.15,352.03 358.62,351.69 359.1,351.43 359.57,351.26 360.05,351.2 360.53,351.26 361,351.43 361.48,351.69 361.95,352.03 362.43,352.4 362.9,352.77 363.38,353.11 363.85,353.37 364.32,353.54 364.8,353.6 365.28,353.54 365.75,353.37 366.23,353.11 366.7,352.77 367.18,352.4 367.65,352.03 368.12,351.69 368.6,351.43 369.07,351.26 369.55,351.2 370.03,351.26 370.5,351.43 370.98,351.69 371.45,352.03 371.93,352.4 372.4,352.77 372.88,353.11 373.35,353.37 373.82,353.54 374.3,353.6 374.78,353.54 375.25,353.37 375.73,353.11 376.2,352.77 376.68,352.4 377.15,352.03 377.62,351.69 378.1,351.43 378.57,351.26 379.05,351.2 379.53,351.26 380,351.43 380.48,351.69 380.95,352.03 381.43,352.4 381.9,352.77 382.38,353.11 382.85,353.37 383.32,353.54 383.8,353.6" fill="none" stroke="#666" stroke-width="0.75"/>
<polyline points="355.3,382.1 355.78,382.04 356.25,381.85 356.73,381.56 357.2,381.2 357.68,380.8 358.15,380.4 358.62,380.04 359.1,379.75 359.57,379.56 360.05,379.5 360.53,379.56 361,379.75 361.48,380.04 361.95,380.4 362.43,380.8 362.9,381.2 363.38,381.56 363.85,381.85 364.32,382.04 364.8,382.1 365.28,382.04 365.75,381.85 366.23,381.56 366.7,381.2 367.18,380.8 367.65,380.4 368.12,380.04 368.6,379.75 369.07,379.56 369.55,379.5 370.03,379.56 370.5,379.75 370.98,380.04 371.45,380.4 371.93,380.8 372.4,381.2 372.88,381.56 373.35,381.85 373.82,382.04 374.3,382.1 374.78,382.04 375.25,381.85 375.73,381.56 376.2,381.2 376.68,380.8 377.15,380.4 377.62,380.04 378.1,379.75 378.57,379.56 379.05,379.5 379.53,379.56 380,379.75 380.48,380.04 380.95,380.4 381.43,380.8 381.9,381.2 382.38,381.56 382.85,381.85 383.32,382.04 383.8,382.1" fill="none" stroke="#666" stroke-width="0.75"/>
<g transform="translate(339.25,615.65) rotate(-40.03)"><rect x="-11.43" y="-2.4" width="22.85" height="4.8" rx="2.4" fill="#fff" stroke="#8a8a8a" stroke-width="0.8"/><path d="M-8.82,-2.4 Q-6.82,0 -8.82,2.4" fill="none" stroke="#8a8a8a" stroke-width="0.7"/><path d="M-5.01,-2.4 Q-3.01,0 -5.01,2.4" fill="none" stroke="#8a8a8a" stroke-width="0.7"/><path d="M-1.2,-2.4 Q0.8,0 -1.2,2.4" fill="none" stroke="#8a8a8a" stroke-width="0.7"/><path d="M2.61,-2.4 Q4.61,0 2.61,2.4" fill="none" stroke="#8a8a8a" stroke-width="0.7"/><path d="M6.42,-2.4 Q8.42,0 6.42,2.4" fill="none" stroke="#8a8a8a" stroke-width="0.7"/></g>
<g transform="translate(360.2,615.65) rotate(-40.19)"><rect x="-11.39" y="-2.4" width="22.78" height="4.8" rx="2.4" fill="#fff" stroke="#8a8a8a" stroke-width="0.8"/><path d="M-8.79,-2.4 Q-6.79,0 -8.79,2.4" fill="none" stroke="#8a8a8a" stroke-width="0.7"/><path d="M-5,-2.4 Q-3,0 -5,2.4" fill="none" stroke="#8a8a8a" stroke-width="0.7"/><path d="M-1.2,-2.4 Q0.8,0 -1.2,2.4" fill="none" stroke="#8a8a8a" stroke-width="0.7"/><path d="M2.6,-2.4 Q4.6,0 2.6,2.4" fill="none" stroke="#8a8a8a" stroke-width="0.7"/><path d="M6.39,-2.4 Q8.39,0 6.39,2.4" fill="none" stroke="#8a8a8a" stroke-width="0.7"/></g>
</svg>
</body></html>
